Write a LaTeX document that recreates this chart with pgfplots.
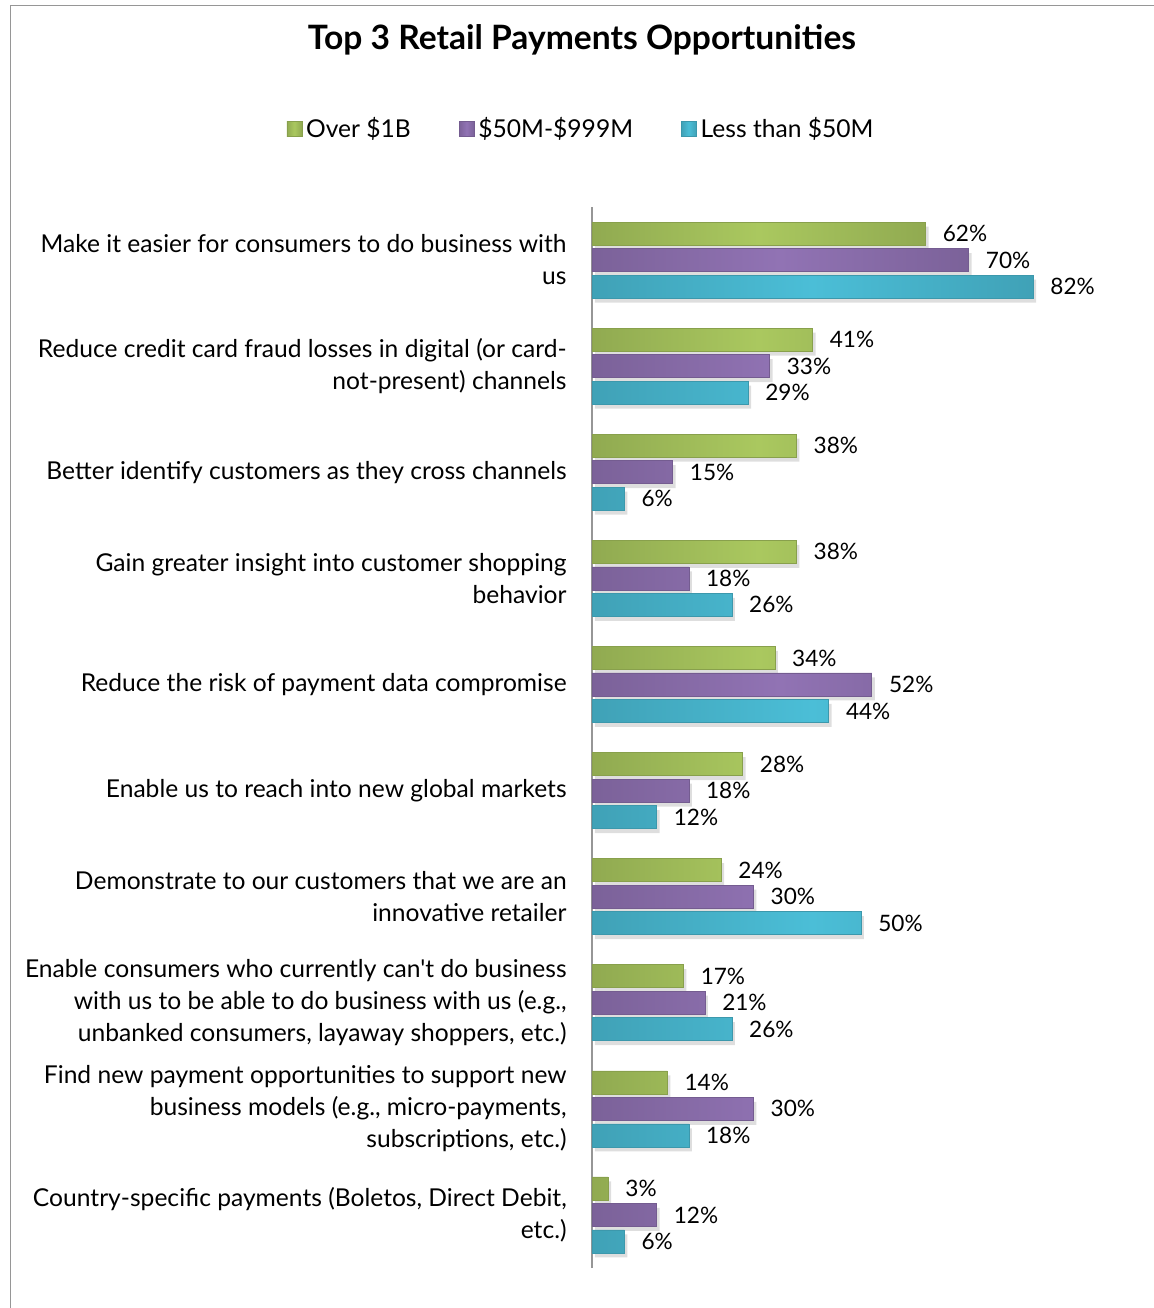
\documentclass[border=0pt]{standalone}
\usepackage{fontspec}
\setmainfont{Lato}
\usepackage{pgfplots}
\usepackage{pgfplotstable}
\pgfplotsset{compat=1.18}
\definecolor{cgreen}{RGB}{170,200,95}
\definecolor{cpurple}{RGB}{145,115,180}
\definecolor{ccyan}{RGB}{75,190,215}
\definecolor{frame}{RGB}{150,150,150}
\pgfplotstableread{
y a b c
9 62 70 82
8 41 33 29
7 38 15 6
6 38 18 26
5 34 52 44
4 28 18 12
3 24 30 50
2 17 21 26
1 14 30 18
0 3 12 6
}\datatable
\begin{document}
\begin{tikzpicture}
\path[use as bounding box] (0pt,0pt) rectangle (577pt,654pt);
\draw[frame,line width=0.5pt] (5pt,0pt) -- (5pt,651pt) -- (577pt,651pt);
\node[font=\bfseries\fontsize{16.8}{19}\selectfont] at (291pt,634pt) {Top 3 Retail Payments Opportunities};
\begin{axis}[
  at={(296pt,20pt)}, anchor=south west,
  scale only axis, width=269pt, height=530.5pt,
  xmin=0, xmax=100, ymin=-0.5, ymax=9.5,
  xbar, bar width=11.5pt,
  axis x line=none,
  axis y line*=left,
  y axis line style={draw=frame,line width=1pt,-},
  ytick={0,...,9},
  major tick length=0pt,
  /pgf/number format/assume math mode=true,
  yticklabels={
    {Country-specific payments (Boletos, Direct Debit,\\etc.)},
    {Find new payment opportunities to support new\\business models (e.g., micro-payments,\\subscriptions, etc.)},
    {Enable consumers who currently can\textquotesingle t do business\\with us to be able to do business with us (e.g.,\\unbanked consumers, layaway shoppers, etc.)},
    {Demonstrate to our customers that we are an\\innovative retailer},
    {Enable us to reach into new global markets},
    {Reduce the risk of payment data compromise},
    {Gain greater insight into customer shopping\\behavior},
    {Better identify customers as they cross channels},
    {Reduce credit card fraud losses in digital (or card-\\not-present) channels},
    {Make it easier for consumers to do business with\\us}},
  yticklabel style={align=right, inner sep=0pt, xshift=-12.5pt, font=\fontsize{12.3}{16}\selectfont},
  point meta=x,
  every node near coord/.append style={anchor=west, inner sep=0pt, xshift=8.5pt, font=\fontsize{11.3}{13}\selectfont, black},
  legend columns=3,
  legend style={at={(-0.0186,1.0735)}, anchor=center, draw=none, fill=none,
    font=\fontsize{12.3}{14}\selectfont,
    /tikz/every even column/.append style={column sep=22pt}},
  legend image code/.code={\fill[#1] (0pt,-3.75pt) rectangle (7.5pt,3.75pt);},
  legend cell align=left,
  shadowbar/.style={forget plot, fill=black, draw=none, opacity=0.13},
]
\addplot[shadowbar, bar shift=11pt, xshift=1.5pt] table[x=a,y=y] {\datatable};
\addplot[draw=cgreen!80!black, line width=0.3pt, left color=cgreen!85!black, right color=cgreen!85!black, middle color=cgreen, bar shift=13.25pt,
  nodes near coords={\pgfmathprintnumber{\pgfplotspointmeta}\%}] table[x=a,y=y] {\datatable};
\addplot[shadowbar, bar shift=-2.25pt, xshift=1.5pt] table[x=b,y=y] {\datatable};
\addplot[draw=cpurple!80!black, line width=0.3pt, left color=cpurple!85!black, right color=cpurple!85!black, middle color=cpurple, bar shift=0pt,
  nodes near coords={\pgfmathprintnumber{\pgfplotspointmeta}\%}] table[x=b,y=y] {\datatable};
\addplot[shadowbar, bar shift=-15.5pt, xshift=1.5pt] table[x=c,y=y] {\datatable};
\addplot[draw=ccyan!80!black, line width=0.3pt, left color=ccyan!85!black, right color=ccyan!85!black, middle color=ccyan, bar shift=-13.25pt,
  nodes near coords={\pgfmathprintnumber{\pgfplotspointmeta}\%}] table[x=c,y=y] {\datatable};
\legend{Over \$1B,\$50M-\$999M,Less than \$50M}
\end{axis}
\end{tikzpicture}
\end{document}
